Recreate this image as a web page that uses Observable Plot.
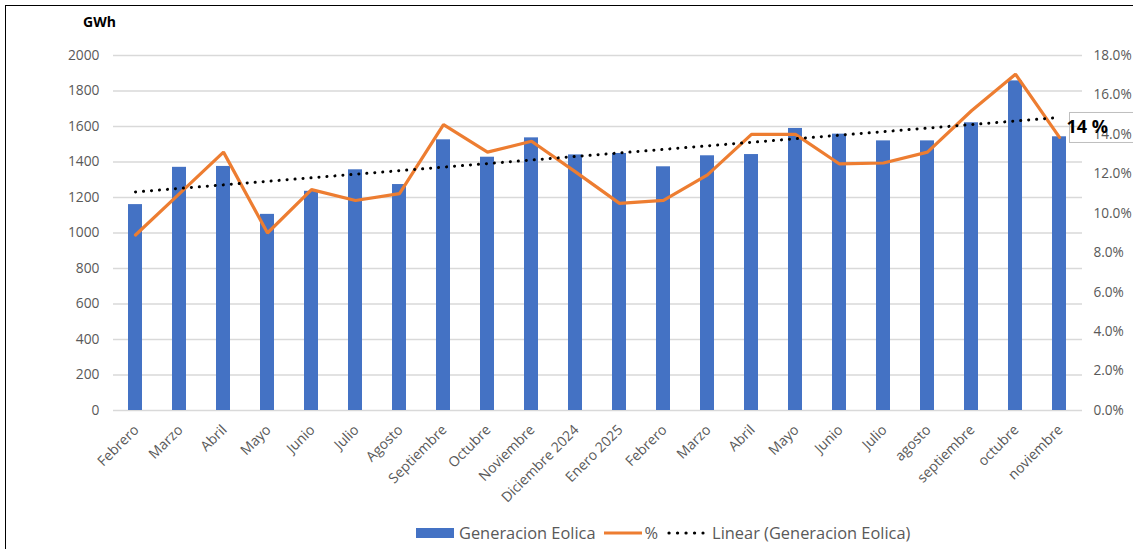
<!DOCTYPE html>
<html><head><meta charset="utf-8">
<script src="https://cdn.jsdelivr.net/npm/d3@7"></script>
<script src="https://cdn.jsdelivr.net/npm/@observablehq/plot@0.6"></script>
<style>
  html,body{margin:0;padding:0;background:#fff;overflow:hidden;}
  #wrap{position:relative;width:1133px;height:549px;font-family:"Open Sans",Lato,sans-serif;}
  #frame{position:absolute;left:5px;top:5px;width:1300px;height:700px;border-left:1.5px solid #000;border-top:1.5px solid #000;pointer-events:none;}
  #unit{position:absolute;left:83px;top:12px;font-weight:bold;font-size:14px;color:#000;}
  #legend{position:absolute;top:521px;left:416px;display:flex;align-items:center;font-size:16.4px;color:#595959;white-space:nowrap;}
  .sw{display:inline-block;margin-right:5px;}
  .item{display:flex;align-items:center;margin-right:8px;}
</style></head>
<body><div id="wrap"><div id="chart"></div><div id="frame"></div><div id="unit">GWh</div>
<div id="legend">
  <span class="item"><svg class="sw" width="38" height="10"><rect width="38" height="10" fill="#4472C4"/></svg>Generacion Eolica</span>
  <span class="item"><svg class="sw" width="38" height="10" style="margin-right:3px"><line x1="0" x2="38" y1="5" y2="5" stroke="#ED7D31" stroke-width="3"/></svg>%</span>
  <span class="item"><svg class="sw" width="40" height="10" style="margin-right:6px"><line x1="3" x2="37" y1="5" y2="5" stroke="#000" stroke-width="3.2" stroke-linecap="round" stroke-dasharray="0.1,8.4"/></svg>Linear (Generacion Eolica)</span>
</div></div>
<script>
const months = ["Febrero","Marzo","Abril","Mayo","Junio","Julio","Agosto","Septiembre","Octubre","Noviembre","Diciembre 2024","Enero 2025","Febrero","Marzo","Abril","Mayo","Junio","Julio","agosto","septiembre","octubre","noviembre"];
const generacion = [1160,1370,1375,1105,1235,1356,1273,1525,1427,1536,1440,1448,1373,1435,1442,1589,1557,1519,1519,1621,1857,1542];
const pct = [8.9,11.0,13.1,9.0,11.2,10.65,11.0,14.5,13.1,13.65,12.1,10.5,10.65,11.95,14.0,14.0,12.5,12.55,13.1,15.2,17.05,13.85];
const leftTicks = [0,200,400,600,800,1000,1200,1400,1600,1800,2000];
const rightTicksPct = [0,2,4,6,8,10,12,14,16,18];
const labelText = "14 %";
const labelPct = 14.35;

const yMax = 2000, pMax = 18;
const toY = p => p * yMax / pMax;

const data = months.map((m, i) => ({i, m, g: generacion[i], p: pct[i]}));
// linear trendline of Generacion Eolica (least squares over index)
const mx = d3.mean(data, d => d.i), my = d3.mean(data, d => d.g);
const slope = d3.sum(data, d => (d.i - mx) * (d.g - my)) / d3.sum(data, d => (d.i - mx) ** 2);
const trend = data.map(d => ({i: d.i, t: my + slope * (d.i - mx)}));

const lastI = data.length - 1;
const boxMark = Plot.text([{i: lastI, y: toY(labelPct)}], {
  x: "i", y: "y", text: () => labelText, dx: 7, textAnchor: "start",
  fontSize: 18, fontWeight: "bold", fill: "#000", fontFamily: "'Open Sans', sans-serif",
  render(index, scales, values, dims, context, next) {
    const g = next(index, scales, values, dims, context);
    const x = values.x[0] + 7 + scales.x.bandwidth() / 2, y = values.y[0];
    const r = document.createElementNS("http://www.w3.org/2000/svg", "rect");
    r.setAttribute("x", x - 11); r.setAttribute("y", y - 15);
    r.setAttribute("width", 100); r.setAttribute("height", 30);
    r.setAttribute("fill", "none"); r.setAttribute("stroke", "#bfbfbf");
    g.insertBefore(r, g.firstChild);
    return g;
  }
});

const chart = Plot.plot({
  width: 1133, height: 515,
  marginLeft: 113, marginRight: 51, marginTop: 55, marginBottom: 105,
  style: {fontFamily: "'Open Sans', Lato, sans-serif", background: "transparent", overflow: "visible"},
  x: {type: "band", domain: d3.range(months.length), paddingInner: 0.68, paddingOuter: 0.34},
  y: {domain: [0, yMax]},
  marks: [
    Plot.gridY(leftTicks, {stroke: "#d9d9d9", strokeOpacity: 1, strokeWidth: 1.3}),
    Plot.barY(data, {x: "i", y: "g", fill: "#4472C4"}),
    Plot.line(data, {x: "i", y: d => toY(d.p), stroke: "#ED7D31", strokeWidth: 3.2, strokeLinejoin: "miter"}),
    Plot.line(trend, {x: "i", y: "t", stroke: "#000", strokeWidth: 3, strokeLinecap: "round", strokeDasharray: "0.1,7.9"}),
    Plot.axisY({anchor: "left", ticks: leftTicks, tickFormat: d => String(d), tickSize: 0, tickPadding: 14, fontSize: 13.8, color: "#595959", label: null}),
    Plot.axisY({anchor: "right", ticks: rightTicksPct.map(toY), tickFormat: d => (d * pMax / yMax).toFixed(1) + "%", tickSize: 0, tickPadding: 11, fontSize: 13.6, color: "#595959", label: null}),
    Plot.axisX({tickRotate: -45, tickSize: 0, tickPadding: 17, dx: 1, tickFormat: i => months[i], fontSize: 14, color: "#595959", label: null}),
    boxMark
  ]
});
document.getElementById("chart").appendChild(chart);
</script></body></html>
